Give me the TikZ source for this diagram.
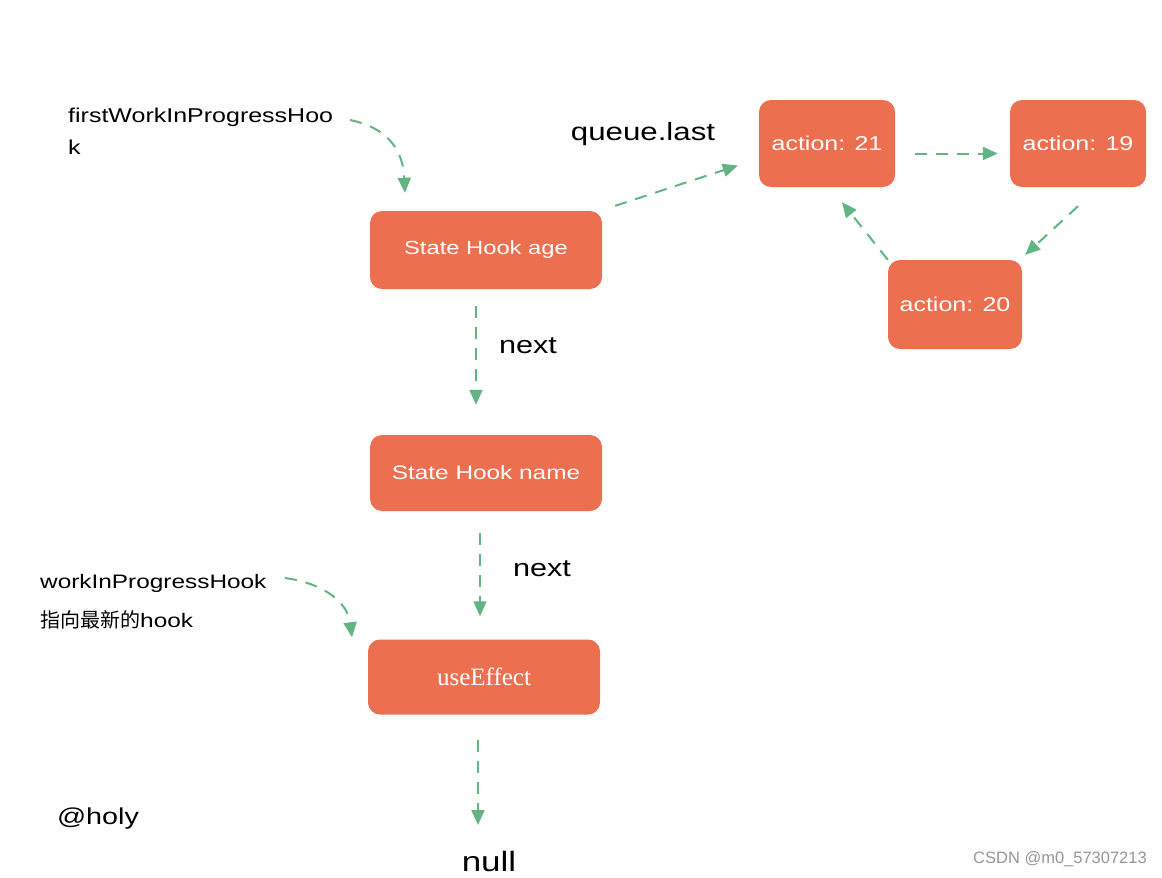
\documentclass[tikz,border=0pt]{standalone}
\usepackage{fontspec}
\setmainfont{Liberation Sans}
\newfontfamily\hand[FakeStretch=1.25]{Liberation Sans}
\newfontfamily\serifff{Liberation Serif}
\newfontfamily\cjk{Noto Sans CJK SC}
\usetikzlibrary{arrows.meta}
\definecolor{boxc}{RGB}{236,111,80}
\definecolor{arrc}{RGB}{98,180,130}
\definecolor{wmc}{RGB}{150,150,150}
\tikzset{
  hookbox/.style={fill=boxc, rounded corners=12pt, minimum width=232pt, minimum height=78pt, text=white, inner sep=0pt, font=\hand\fontsize{19}{23}\selectfont},
  actbox/.style={fill=boxc, rounded corners=12pt, minimum width=136pt, minimum height=88pt, text=white, inner sep=0pt, font=\hand\fontsize{20}{24}\selectfont},
  arr/.style={draw=arrc, line width=2pt, dash pattern=on 12pt off 9pt, -{Triangle[length=15pt,width=13pt]}},
  lbl/.style={inner sep=0pt, text=black},
}
\begin{document}
\begin{tikzpicture}[x=1pt,y=-1pt]
\useasboundingbox[fill=white] (0,0) rectangle (1162,878);
% boxes
\node[hookbox] (age) at (486,250) {State Hook age};
\node[hookbox, minimum height=76pt, font=\hand\fontsize{19.5}{23}\selectfont] (name) at (486,473) {State Hook name};
\node[hookbox, minimum height=75pt, font=\serifff\fontsize{25}{29}\selectfont] (ue) at (484,677) {useEffect};
\node[actbox, minimum height=87pt] (a21) at (827,143.5) {action: 21};
\node[actbox, minimum height=87pt] (a19) at (1078,143.5) {action: 19};
\node[actbox, minimum width=134pt, minimum height=89pt] (a20) at (955,304.5) {action: 20};
% labels
\node[lbl, anchor=north west, align=left, font=\hand\fontsize{20}{32}\selectfont] (fwip) at (68,108) {firstWorkInProgressHoo\\k};
\node[lbl, font=\hand\fontsize{25}{30}\selectfont] (ql) at (643,134) {queue.last};
\node[lbl, font=\hand\fontsize{24.5}{28}\selectfont] (n1) at (528,346) {next};
\node[lbl, font=\hand\fontsize{24.5}{28}\selectfont] (n2) at (542,569) {next};
\node[lbl, anchor=west, font=\hand\fontsize{19.5}{23}\selectfont] (wip) at (40,583) {workInProgressHook};
\node[lbl, anchor=west, font=\hand\fontsize{19.5}{23}\selectfont] (wip2) at (40,620) {{\cjk\fontsize{20}{23}\selectfont 指向最新的}hook};
\node[lbl, font=\hand\fontsize{23}{28}\selectfont] (holy) at (98,819) {@holy};
\node[lbl, font=\hand\fontsize{28}{32}\selectfont] (null) at (489,861) {null};
\node[lbl, text=wmc, font=\fontsize{16.5}{19}\selectfont] (wm) at (1060,859) {CSDN @m0\_57307213};
% free ends
\coordinate (fs) at (350,120);
\coordinate (ws) at (285,578);
% connectors
\draw[arr] (fs) .. controls (388,128) and (403,150) .. ([shift={(-81,-18)}]age.north);
\draw[arr] ([shift={(13,-5)}]age.north east) -- ([shift={(-21,22)}]a21.west);
\draw[arr] ([shift={(20,10)}]a21.east) -- ([shift={(-12,10)}]a19.west);
\draw[arr] ([shift={(0,19)}]a19.south) -- ([shift={(3,-5)}]a20.north east);
\draw[arr] (a20.north west) -- ([shift={(15,15)}]a21.south);
\draw[arr] ([shift={(-10,17)}]age.south) -- ([shift={(-10,-30)}]name.north);
\draw[arr] ([shift={(-6,22)}]name.south) -- ([shift={(-4,-23)}]ue.north);
\draw[arr] (ws) .. controls (328,584) and (348,605) .. ([shift={(-132,-2)}]ue.north);
\draw[arr] ([shift={(-6,25)}]ue.south) -- ([shift={(-11,-36)}]null.center);
\end{tikzpicture}
\end{document}
